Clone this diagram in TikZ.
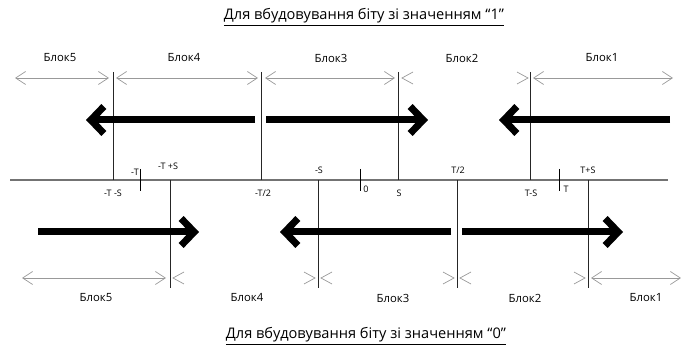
\documentclass[tikz,border=0pt]{standalone}
\usepackage{fontspec}
\setmainfont{Open Sans}
\usetikzlibrary{arrows.meta}
\begin{document}
\begin{tikzpicture}[x=1pt,y=-1pt,
  axis/.style={draw=black!55,line width=1.1pt},
  vline/.style={draw=black!85,line width=0.8pt},
  tick/.style={draw=black,line width=0.9pt},
  dim/.style={draw=black!40,line width=0.7pt,{Straight Barb[length=10pt,width=13pt]}-{Straight Barb[length=10pt,width=13pt]}},
  chev/.style={draw=black!40,line width=0.7pt},
  big/.style={draw=black,line width=7pt,-{Straight Barb[length=13pt,width=27pt]}},
  blk/.style={font=\fontsize{11.3}{13}\selectfont},
  lab/.style={font=\fontsize{9}{10}\selectfont,inner sep=0pt},
  ttl/.style={font=\fontsize{14.6}{16}\selectfont}
]
\useasboundingbox (0,0) rectangle (681,352);
% titles
\node[ttl] (t1) at (364,17) {\underline{Для вбудовування біту зі значенням “1”}};
\node[ttl] (t0) at (366,336) {\underline{Для вбудовування біту зі значенням “0”}};
% axis
\coordinate (axL) at (10,180);
\coordinate (axR) at (668,180);
\draw[axis] (axL) -- (axR);
% top vertical lines
\foreach \n/\x in {a/113,b/261,c/398,d/530}{
  \coordinate (u\n) at (\x,72);
  \coordinate (u\n0) at (\x,180);
  \draw[vline] (u\n) -- (u\n0);
}
% bottom vertical lines
\foreach \n/\x in {a/170,b/318,c/457,d/588}{
  \coordinate (l\n0) at (\x,180);
  \coordinate (l\n) at (\x,288);
  \draw[vline] (l\n0) -- (l\n);
}
% ticks
\foreach \n/\x in {mt/140,zero/360,pt/559}{
  \coordinate (\n1) at (\x,169);
  \coordinate (\n2) at (\x,191);
  \draw[tick] (\n1) -- (\n2);
}
% axis labels
\node[lab] (lTS) at (113,193) {-T -S};
\node[lab] (lT) at (135,172) {-T};
\node[lab] (lTpS) at (168,166) {-T +S};
\node[lab] (lT2) at (263,193) {-T/2};
\node[lab] (lmS) at (319,170) {-S};
\node[lab] (l0) at (366,189) {0};
\node[lab] (lS) at (399,193) {S};
\node[lab] (lTh) at (458,170) {T/2};
\node[lab] (lTmS) at (531,193) {T-S};
\node[lab] (lTT) at (566,189) {T};
\node[lab] (lTplS) at (588,170) {T+S};
% top block labels
\node[blk] (b5) at (60,58) {Блок5};
\node[blk] (b4) at (184,58) {Блок4};
\node[blk] (b3) at (331,58) {Блок3};
\node[blk] (b2) at (462,58) {Блок2};
\node[blk] (b1) at (602,58) {Блок1};
% top dimension arrows
\coordinate (d5a) at (15,78); \coordinate (d5b) at (109,78);
\coordinate (d4a) at (116,78); \coordinate (d4b) at (258,78);
\coordinate (d3a) at (265,78); \coordinate (d3b) at (395,78);
\coordinate (d1a) at (533,78); \coordinate (d1b) at (673,78);
\draw[dim] (d5a) -- (d5b);
\draw[dim] (d4a) -- (d4b);
\draw[dim] (d3a) -- (d3b);
\draw[dim] (d1a) -- (d1b);
\draw[chev] (413,72) -- (402,78) -- (413,84);
\draw[chev] (517,72) -- (528,78) -- (517,84);
% top thick arrows
\coordinate (A1s) at (255,120); \coordinate (A1e) at (86,120);
\coordinate (A2s) at (266,120); \coordinate (A2e) at (428,120);
\coordinate (A3s) at (670,120); \coordinate (A3e) at (499,120);
\draw[big] (A1s) -- (A1e);
\draw[big] (A2s) -- (A2e);
\draw[big] (A3s) -- (A3e);
% bottom thick arrows
\coordinate (B1s) at (38,232); \coordinate (B1e) at (199,232);
\coordinate (B2s) at (451,232); \coordinate (B2e) at (280,232);
\coordinate (B3s) at (462,232); \coordinate (B3e) at (623,232);
\draw[big] (B1s) -- (B1e);
\draw[big] (B2s) -- (B2e);
\draw[big] (B3s) -- (B3e);
% bottom dimension arrows
\coordinate (e5a) at (22,278); \coordinate (e5b) at (166,278);
\coordinate (e1a) at (591,278); \coordinate (e1b) at (681,278);
\draw[dim] (e5a) -- (e5b);
\draw[dim] (e1a) -- (e1b);
\draw[chev] (184,272) -- (173,278) -- (184,284);
\draw[chev] (304,272) -- (315,278) -- (304,284);
\draw[chev] (332,272) -- (321,278) -- (332,284);
\draw[chev] (443,272) -- (454,278) -- (443,284);
\draw[chev] (471,272) -- (460,278) -- (471,284);
\draw[chev] (574,272) -- (585,278) -- (574,284);
% bottom block labels
\node[blk] (c5) at (96,298) {Блок5};
\node[blk] (c4) at (247,298) {Блок4};
\node[blk] (c3) at (393,298) {Блок3};
\node[blk] (c2) at (525,298) {Блок2};
\node[blk] (c1) at (646,298) {Блок1};
\end{tikzpicture}
\end{document}
